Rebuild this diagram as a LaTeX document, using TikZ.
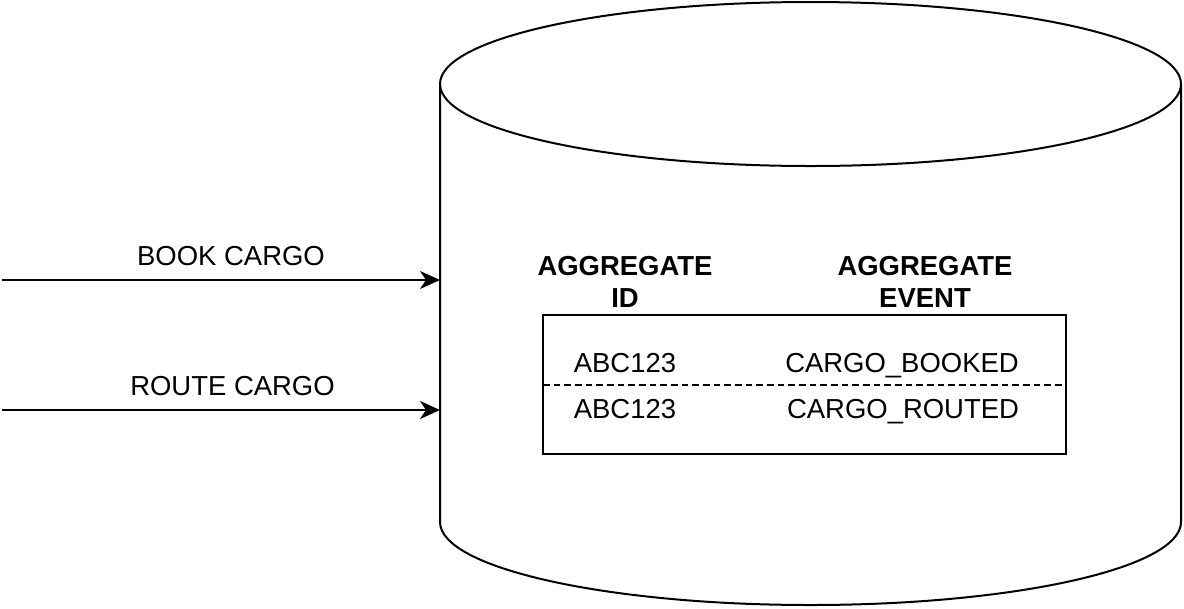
\documentclass[tikz,border=0pt]{standalone}
\usepackage{fontspec}
\setmainfont{Liberation Sans}
\usetikzlibrary{arrows.meta}
\begin{document}
\begin{tikzpicture}[x=0.75pt,y=-0.75pt,
  shapeline/.style={line width=1.5pt, black},
  arr/.style={line width=1.5pt, -{Stealth[length=15pt,width=13.5pt,inset=4.5pt]}},
  lbl/.style={font=\fontsize{20.6}{23.5}\selectfont, inner sep=0pt, anchor=base},
  hdr/.style={font=\fontsize{20.6}{23.5}\selectfont\bfseries, inner sep=0pt, align=center},
  tablebox/.style={draw, line width=1.5pt, minimum width=392.25pt, minimum height=104.25pt, inner sep=0pt}
]
\useasboundingbox (0,0) rectangle (1184,608);
% cylinder
\draw[shapeline] (810.5,84) ellipse [x radius=370.5, y radius=82];
\draw[shapeline] (440,84) -- (440,522) arc [start angle=180, end angle=0, x radius=370.5, y radius=83] -- (1181,84);
% arrows
\coordinate (s1) at (2,280);
\coordinate (e1) at (440,280);
\coordinate (s2) at (2,410);
\coordinate (e2) at (440,410);
\draw[arr] (s1) -- (e1);
\draw[arr] (s2) -- (e2);
\node[lbl] (book) at (231,265) {BOOK CARGO};
\node[lbl] (route) at (232.5,395) {ROUTE CARGO};
% headers
\node[hdr] (hid) at (625,282) {AGGREGATE\\ID};
\node[hdr] (hev) at (925,282) {AGGREGATE\\EVENT};
% table
\node[tablebox] (tbl) at (804.5,384.5) {};
\coordinate (dl) at (543,385);
\coordinate (dr) at (1066,385);
\draw[line width=1.3pt, dash pattern=on 5pt off 3pt] (dl) -- (dr);
\node[lbl] (id1) at (625,372) {ABC123};
\node[lbl] (id2) at (625,418) {ABC123};
\node[lbl] (ev1) at (902,372) {CARGO\_BOOKED};
\node[lbl] (ev2) at (903,418) {CARGO\_ROUTED};
\end{tikzpicture}
\end{document}
